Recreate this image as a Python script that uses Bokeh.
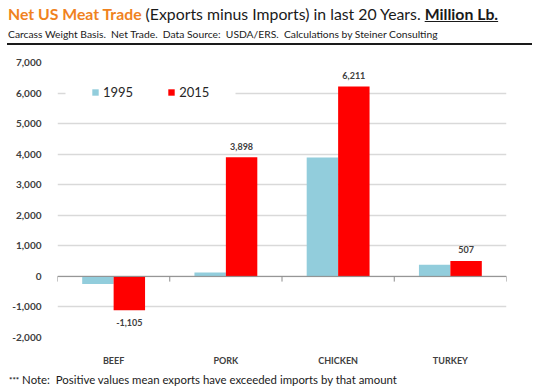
from bokeh.plotting import figure
from bokeh.layouts import column
from bokeh.models import (ColumnDataSource, FactorRange, LabelSet, BoxAnnotation, Div,
                          Span, Legend, LegendItem, FixedTicker, NumeralTickFormatter)
from bokeh.transform import dodge
from bokeh.embed import file_html
from bokeh.resources import INLINE
from bokeh.core.properties import value

# ---- data ----
categories = ["BEEF", "PORK", "CHICKEN", "TURKEY"]
years = ["1995", "2015"]
net_1995 = [-250, 130, 3890, 380]
net_2015 = [-1105, 3898, 6211, 507]
y_ticks = [-2000, -1000, 0, 1000, 2000, 3000, 4000, 5000, 6000, 7000]

title_main = "Net US Meat Trade"
title_rest = "(Exports minus Imports) in last 20 Years."
title_unit = "Million Lb."
subtitle = ("Carcass Weight Basis.&nbsp; Net Trade.&nbsp; Data Source:&nbsp; USDA/ERS.&nbsp; "
            "Calculations by Steiner Consulting")
note = "Note:&nbsp; Positive values mean exports have exceeded imports by that amount"

FONT = "Lato"
BLUE = "#92CDDC"
RED = "#FF0000"
ORANGE = "#F0821E"
TXT = "#404040"
W = 537

src = ColumnDataSource(dict(
    cat=categories,
    v95=net_1995,
    v15=net_2015,
    lab=[f"{v:,}" for v in net_2015],
    off=[11 if v >= 0 else -12 for v in net_2015],
))

header = Div(width=W, height=46, margin=(0, 0, 0, 0), text=f"""
<div style="position:relative;width:{W}px;height:46px;font-family:{FONT};color:#1A1A1A;">
  <div style="position:absolute;left:8px;top:4px;font-size:15.8px;line-height:20px;white-space:nowrap;">
    <span style="color:{ORANGE};font-weight:bold;">{title_main}</span> {title_rest}
    <span style="font-weight:bold;text-decoration:underline;">{title_unit}</span>
  </div>
  <div style="position:absolute;left:8px;top:28px;font-size:10.3px;line-height:13px;white-space:nowrap;">{subtitle}</div>
  <div style="position:absolute;left:7px;top:43px;width:525px;height:2px;background:#1A1A1A;"></div>
</div>""")

footer = Div(width=W, height=16, margin=(0, 0, 0, 0), text=f"""
<div style="position:relative;width:{W}px;height:16px;font-family:{FONT};color:#1A1A1A;">
  <div style="position:absolute;left:9px;top:1px;font-size:11.4px;line-height:14px;white-space:nowrap;">
    <span style="font-size:8px;vertical-align:top;font-weight:bold;">***</span> {note}
  </div>
</div>""")

p = figure(width=W, height=326,
           x_range=FactorRange(factors=categories, range_padding=0),
           y_range=(y_ticks[0], y_ticks[-1]),
           output_backend="svg", toolbar_location=None,
           min_border_left=57, min_border_right=31,
           min_border_top=16, min_border_bottom=35, margin=(0, 0, 0, 0))
p.outline_line_color = None
p.background_fill_color = "white"

# grid
p.xgrid.grid_line_color = None
p.ygrid.ticker = FixedTicker(ticks=y_ticks)
p.ygrid.grid_line_color = "#D9D9D9"
p.ygrid.grid_line_width = 1.5

# y axis
p.yaxis.ticker = FixedTicker(ticks=y_ticks)
p.yaxis.formatter = NumeralTickFormatter(format="0,0")
p.yaxis.axis_line_color = None
p.yaxis.major_tick_line_color = None
p.yaxis.minor_tick_line_color = None
p.yaxis.major_label_standoff = 10
p.yaxis.major_label_text_font = FONT
p.yaxis.major_label_text_font_style = "bold"
p.yaxis.major_label_text_font_size = "10px"
p.yaxis.major_label_text_color = TXT

# x axis
p.xaxis.axis_line_color = None
p.xaxis.major_tick_line_color = None
p.xaxis.minor_tick_line_color = None
p.xaxis.major_label_standoff = 11
p.xaxis.major_label_text_font = FONT
p.xaxis.major_label_text_font_style = "bold"
p.xaxis.major_label_text_font_size = "9px"
p.xaxis.major_label_text_color = TXT

# bars
r95 = p.vbar(x=dodge("cat", -0.14, range=p.x_range), top="v95", width=0.28,
             source=src, fill_color=BLUE, line_color=None)
r15 = p.vbar(x=dodge("cat", 0.14, range=p.x_range), top="v15", width=0.28,
             source=src, fill_color=RED, line_color=None)

# zero axis line and category boundary ticks
p.add_layout(Span(location=0, dimension="width", line_color="#8C8C8C", line_width=1))
bounds = list(range(len(categories) + 1))
p.segment(x0=bounds, x1=bounds, y0=[0] * len(bounds), y1=[-170] * len(bounds),
          line_color="#8C8C8C", line_width=1)

# data labels (2015 series)
p.add_layout(LabelSet(x=dodge("cat", 0.14, range=p.x_range), y="v15", text="lab",
                      y_offset="off", source=src, text_align="center",
                      text_baseline="middle", text_font=value(FONT),
                      text_font_style="bold", text_font_size="9px", text_color=TXT))

# legend (with white gap in the gridline behind it)
p.add_layout(BoxAnnotation(left=8, right=178, left_units="screen", right_units="screen",
                           bottom=5930, top=6070, fill_color="white", fill_alpha=1,
                           line_color=None))
legend = Legend(items=[LegendItem(label=years[0], renderers=[r95]),
                       LegendItem(label=years[1], renderers=[r15])],
                orientation="horizontal", location=(34, 237),
                glyph_width=8, glyph_height=8, label_standoff=4, spacing=34,
                padding=4, margin=0, label_height=16,
                label_text_font=FONT, label_text_font_size="13px",
                label_text_color="#262626", border_line_color=None,
                background_fill_color="white", background_fill_alpha=1)
p.add_layout(legend)

layout = column(header, p, footer, spacing=0, margin=(0, 0, 0, 0))

open("out.html", "w").write(file_html(layout, INLINE))
